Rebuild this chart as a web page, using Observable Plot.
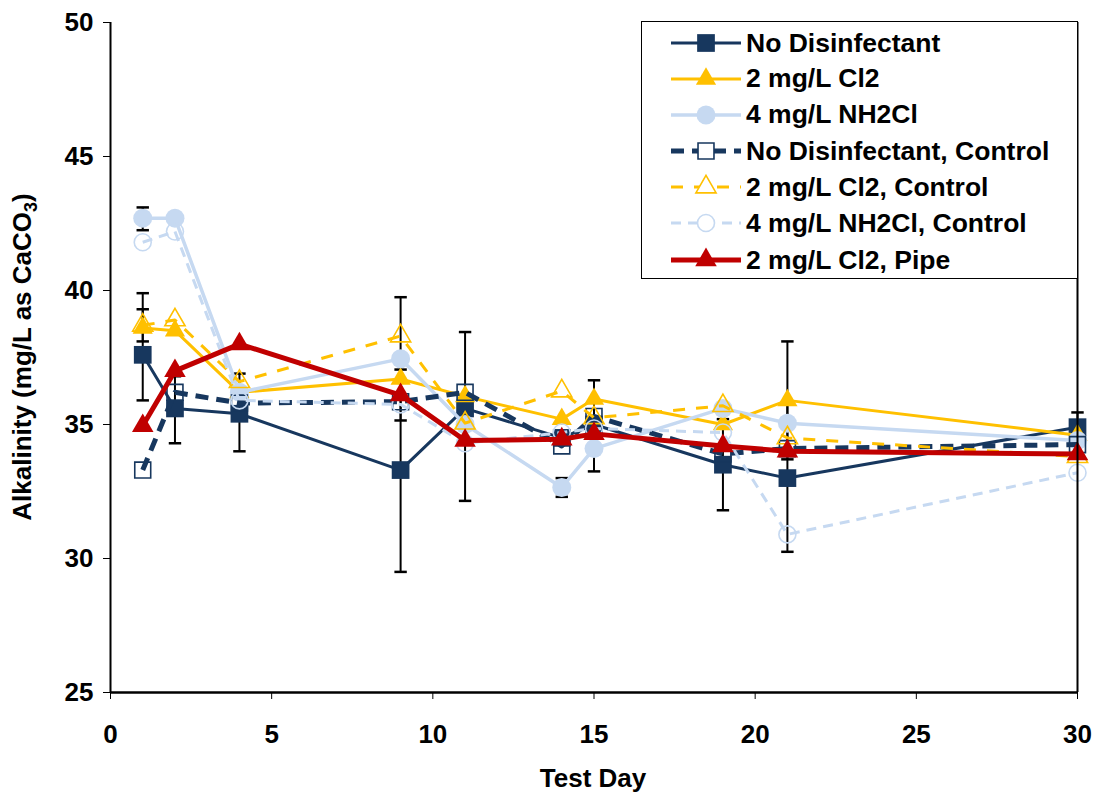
<!DOCTYPE html>
<html><head><meta charset="utf-8">
<script src="https://cdn.jsdelivr.net/npm/d3@7"></script>
<script src="https://cdn.jsdelivr.net/npm/@observablehq/plot@0.6"></script>
<style>
body{margin:0;background:#fff;font-family:"Liberation Sans",Arial,sans-serif;}
#wrap{position:relative;width:1097px;height:795px;}
#legend{position:absolute;left:641px;top:21px;width:437px;height:258px;border:1.5px solid #000;background:#fff;box-sizing:border-box;}
.row{position:absolute;left:0;height:36px;display:flex;align-items:center;}
.row svg{display:block}
.row span{font-weight:bold;font-size:26.5px;color:#000;margin-left:4px;white-space:nowrap}
</style></head><body><div id="wrap"></div><script>
// ---- data ----
const days = [1, 2, 4, 9, 11, 14, 15, 19, 21, 30];
const seriesNames = ["No Disinfectant", "2 mg/L Cl2", "4 mg/L NH2Cl", "No Disinfectant, Control", "2 mg/L Cl2, Control", "4 mg/L NH2Cl, Control", "2 mg/L Cl2, Pipe"];
const noDisinfectant      = [37.6, 35.6, 35.4, 33.3, 35.6, 34.5, 35.0, 33.5, 33.0, 34.9];
const cl2                 = [38.6, 38.5, 36.2, 36.7, 36.05, 35.2, 35.95, 35.0, 35.9, 34.6];
const nh2cl               = [42.7, 42.7, 36.2, 37.45, 35.0, 32.65, 34.1, 35.6, 35.05, 34.4];
const noDisinfectantCtrl  = [33.3, 36.2, 35.8, 35.85, 36.2, 34.2, 35.3, 33.9, 34.1, 34.25];
const cl2Ctrl             = [38.7, 38.9, 36.6, 38.3, 35.05, 36.25, 35.25, 35.7, 34.5, 33.8];
const nh2clCtrl           = [41.8, 42.2, 35.9, 35.75, 34.3, 34.7, 34.85, 34.7, 30.9, 33.2];
const cl2Pipe             = [34.95, 37.0, 38.0, 36.1, 34.4, 34.45, 34.65, 34.2, 34.0, 33.9];
const seriesValues = [noDisinfectant, cl2, nh2cl, noDisinfectantCtrl, cl2Ctrl, nh2clCtrl, cl2Pipe];
// error bars (day, low, high)
const errDay  = [1, 1, 1, 2, 4, 9, 9, 11, 14, 15, 19, 21, 21, 30];
const errLow  = [35.9, 38.1, 42.25, 34.3, 34.0, 29.5, 35.15, 32.15, 32.3, 33.25, 31.8, 30.25, 33.7, 34.4];
const errHigh = [39.9, 39.3, 43.1, 36.8, 36.9, 37.05, 39.75, 38.45, 33.0, 36.65, 35.2, 35.75, 38.1, 35.45];
const xTicks = [0, 5, 10, 15, 20, 25, 30];
const yTicks = [25, 30, 35, 40, 45, 50];

// ---- styles ----
const NAVY = "#17375E", GOLD = "#FFC000", LBLUE = "#C6D9F1", RED = "#C00000";
const styles = [
  {color: NAVY,  width: 3,   dash: null,   symbol: "square",   r: 10, filled: true},
  {color: GOLD,  width: 3,   dash: null,   symbol: "triangle", r: 7.5, filled: true},
  {color: LBLUE, width: 3.5, dash: null,   symbol: "circle",   r: 9.5, filled: true},
  {color: NAVY,  width: 5,   dash: "13,8", symbol: "square",   r: 9, filled: false},
  {color: GOLD,  width: 3,   dash: "12,11", symbol: "triangle", r: 7.5, filled: false},
  {color: LBLUE, width: 3,   dash: "10,7", symbol: "circle",   r: 8.5, filled: false},
  {color: RED,   width: 5,   dash: null,   symbol: "triangle", r: 8, filled: true}
];
const FONT = 26;

const capSymbol = {draw(ctx, size) { const w = Math.sqrt(size); ctx.moveTo(-w / 2, 0); ctx.lineTo(w / 2, 0); }};
const errRows = errDay.map((d, i) => ({day: d, lo: errLow[i], hi: errHigh[i]}));
const capRows = errRows.flatMap(r => [{day: r.day, v: r.lo}, {day: r.day, v: r.hi}]);

const marks = [
  Plot.ruleX(errRows, {x: "day", y1: "lo", y2: "hi", stroke: "#000", strokeWidth: 2}),
  Plot.dot(capRows, {x: "day", y: "v", symbol: capSymbol, r: 7, stroke: "#000", strokeWidth: 2.5})
];
seriesNames.forEach((name, k) => {
  const s = styles[k];
  const rows = days.map((d, i) => ({series: name, day: d, value: seriesValues[k][i]}));
  marks.push(Plot.line(rows, {x: "day", y: "value", stroke: s.color, strokeWidth: s.width,
    strokeDasharray: s.dash || undefined, strokeLinecap: "butt", strokeLinejoin: "round"}));
  marks.push(Plot.dot(rows, {x: "day", y: "value", symbol: s.symbol, r: s.r,
    fill: s.filled ? s.color : "none", stroke: s.filled ? "none" : s.color, strokeWidth: s.filled ? 0 : 1.6}));
});
marks.push(Plot.ruleX([0], {stroke: "#000", strokeWidth: 2}));
marks.push(Plot.ruleX([30], {stroke: "#000", strokeWidth: 2}));
marks.push(Plot.ruleY([25], {stroke: "#000", strokeWidth: 2.5}));
marks.push(Plot.axisX({ticks: xTicks, tickSize: 7, tickPadding: 25, label: null, fontSize: FONT, fontWeight: "bold", stroke: "#000"}));
marks.push(Plot.axisY({ticks: yTicks, tickSize: 7, tickPadding: 10, label: null, fontSize: FONT, fontWeight: "bold", stroke: "#000"}));

const chart = Plot.plot({
  width: 1097, height: 795,
  marginLeft: 110, marginRight: 20, marginTop: 22, marginBottom: 103,
  x: {domain: [0, 30]},
  y: {domain: [25, 50]},
  style: {fontFamily: '"Liberation Sans", Arial, sans-serif', color: "#000", background: "#fff", overflow: "visible"},
  marks
});
const wrap = document.getElementById("wrap");
wrap.appendChild(chart);

// axis titles
const svg = d3.select(chart);
svg.append("text").attr("x", 593).attr("y", 787).attr("text-anchor", "middle")
  .attr("font-weight", "bold").attr("font-size", FONT).attr("fill", "#000").text("Test Day");
const yl = svg.append("text").attr("transform", "translate(31,357) rotate(-90)").attr("text-anchor", "middle")
  .attr("font-weight", "bold").attr("font-size", FONT).attr("fill", "#000");
yl.append("tspan").text("Alkalinity (mg/L as CaCO");
yl.append("tspan").attr("font-size", 18).attr("dy", 6).text("3");
yl.append("tspan").attr("dy", -6).text(")");

// legend
const leg = document.createElement("div");
leg.id = "legend";
wrap.appendChild(leg);
const rowTops = [3, 38.5, 74.5, 111, 147, 183, 220];
seriesNames.forEach((name, k) => {
  const s = styles[k];
  const row = document.createElement("div");
  row.className = "row";
  row.style.top = rowTops[k] + "px";
  const ns = "http://www.w3.org/2000/svg";
  const sv = document.createElementNS(ns, "svg");
  sv.setAttribute("width", 100); sv.setAttribute("height", 36);
  const ln = document.createElementNS(ns, "line");
  ln.setAttribute("x1", 29); ln.setAttribute("x2", 99); ln.setAttribute("y1", 18); ln.setAttribute("y2", 18);
  ln.setAttribute("stroke", s.color); ln.setAttribute("stroke-width", s.width);
  if (s.dash) ln.setAttribute("stroke-dasharray", s.dash);
  sv.appendChild(ln);
  const typeMap = {square: d3.symbolSquare, triangle: d3.symbolTriangle, circle: d3.symbolCircle};
  const p = document.createElementNS(ns, "path");
  p.setAttribute("d", d3.symbol(typeMap[s.symbol], Math.PI * s.r * s.r)());
  p.setAttribute("transform", "translate(64,18)");
  p.setAttribute("fill", s.filled ? s.color : "#fff");
  p.setAttribute("stroke", s.filled ? "none" : s.color);
  p.setAttribute("stroke-width", 1.6);
  sv.appendChild(p);
  row.appendChild(sv);
  const t = document.createElement("span");
  t.textContent = name;
  row.appendChild(t);
  leg.appendChild(row);
});
</script></body></html>
